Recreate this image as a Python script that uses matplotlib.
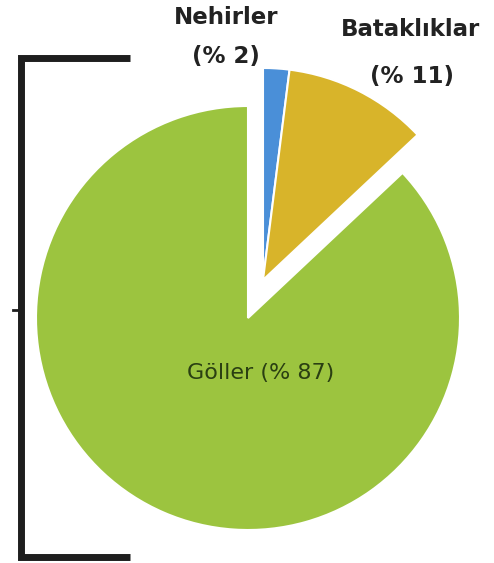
import matplotlib.pyplot as plt

labels = ['Nehirler', 'Bataklıklar', 'Göller']
shares = [2, 11, 87]
colors = ['#4a8fd8', '#d8b42a', '#9cc43f']

fig = plt.figure(figsize=(4.94, 5.63), dpi=100)
ax = fig.add_axes([0, 0, 1, 1])

# pie centre and radius in pixels, used to place everything else
CX, CY, R = 248, 318, 212


def px(x, y):
    return (x - CX) / R, (CY - y) / R


wp = dict(edgecolor='white', linewidth=1.5)

# big green slice stays in place
w1, _ = ax.pie(shares, colors=colors, startangle=90, counterclock=False,
               wedgeprops=wp)
for w in w1[:2]:
    w.set_visible(False)

# blue and yellow slices pulled out together
w2, _ = ax.pie(shares, colors=colors, startangle=90, counterclock=False,
               center=px(263, 280), wedgeprops=wp)
w2[2].set_visible(False)

# labels
bold = dict(ha='center', va='center', fontsize=16.5, fontweight='bold',
            color='#222222')
ax.text(*px(226, 18), labels[0], **bold)
ax.text(*px(226, 56), f'(% {shares[0]})', **bold)
ax.text(*px(410, 29), labels[1], **bold)
ax.text(*px(412, 77), f'(% {shares[1]})', **bold)
ax.text(*px(261, 373), f'{labels[2]} (% {shares[2]})', ha='center',
        va='center', fontsize=16, color='#2a3f12')

# bracket on the left
bx, by = zip(*[px(130, 58), px(21, 58), px(21, 557), px(130, 557)])
ax.plot(bx, by, color='#1e1e1e', linewidth=5, solid_capstyle='butt',
        solid_joinstyle='miter', clip_on=False)
tx, ty = zip(*[px(13, 310), px(21, 310)])
ax.plot(tx, ty, color='#1e1e1e', linewidth=2, clip_on=False)

ax.set_xlim(px(0, 0)[0], px(494, 0)[0])
ax.set_ylim(px(0, 563)[1], px(0, 0)[1])
ax.axis('off')

fig.savefig('out.png', dpi=100)
